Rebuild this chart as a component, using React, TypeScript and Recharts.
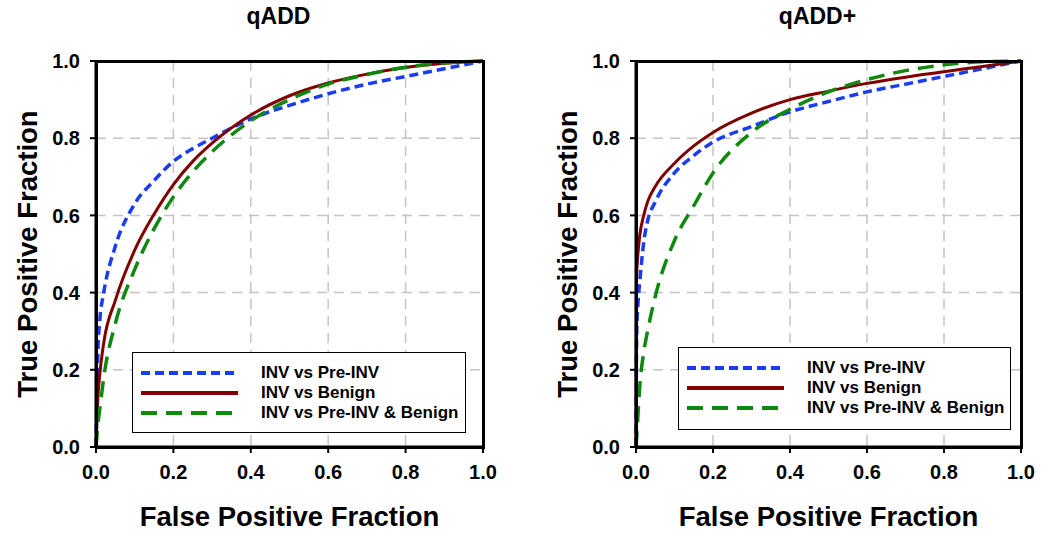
import React from 'react';
import { LineChart, Line, XAxis, YAxis, CartesianGrid, Legend } from 'recharts';

// shared axis ticks
const axisTicks = [0, 0.2, 0.4, 0.6, 0.8, 1.0];

// qADD panel (left)
const qaddFpf = [0, 0.005, 0.01, 0.02, 0.05, 0.1, 0.15, 0.2, 0.25, 0.3, 0.4, 0.5, 0.6, 0.7, 0.8, 0.9, 1.0];
const qaddPreInv = [0, 0.25, 0.33, 0.4, 0.52, 0.63, 0.69, 0.74, 0.773, 0.8, 0.85, 0.885, 0.915, 0.94, 0.96, 0.98, 1.0];
const qaddBenign = [0, 0.13, 0.19, 0.27, 0.38, 0.51, 0.603, 0.68, 0.74, 0.787, 0.86, 0.91, 0.943, 0.966, 0.983, 0.994, 1.0];
const qaddBoth = [0, 0.06, 0.1, 0.18, 0.32, 0.46, 0.565, 0.648, 0.713, 0.765, 0.845, 0.9, 0.94, 0.965, 0.984, 0.995, 1.0];

// qADD+ panel (right)
const qaddPlusFpf = [0, 0.001, 0.002, 0.005, 0.01, 0.02, 0.03, 0.05, 0.1, 0.15, 0.2, 0.3, 0.4, 0.5, 0.6, 0.7, 0.8, 0.9, 1.0];
const qaddPlusPreInv = [0, 0.2, 0.3, 0.37, 0.43, 0.53, 0.585, 0.635, 0.71, 0.755, 0.79, 0.83, 0.868, 0.895, 0.92, 0.94, 0.96, 0.98, 1.0];
const qaddPlusBenign = [0, 0.4, 0.45, 0.5, 0.55, 0.6, 0.635, 0.675, 0.735, 0.78, 0.815, 0.865, 0.9, 0.922, 0.942, 0.958, 0.972, 0.986, 1.0];
const qaddPlusBoth = [0, 0.015, 0.03, 0.08, 0.16, 0.245, 0.3, 0.39, 0.535, 0.625, 0.71, 0.815, 0.875, 0.92, 0.952, 0.975, 0.99, 0.998, 1.0];

const seriesInfo = [
  { key: 'preInv', name: 'INV vs Pre-INV', color: '#1a3cf5', dash: '9 5', width: 3.5 },
  { key: 'benign', name: 'INV vs Benign', color: '#800000', dash: undefined, width: 3 },
  { key: 'both', name: 'INV vs Pre-INV & Benign', color: '#0f880f', dash: '16 9', width: 3.5 },
];

const FONT = '"Liberation Sans", Arial, sans-serif';

const buildRows = (fpf: number[], a: number[], b: number[], c: number[]) =>
  fpf.map((x, i) => ({ x, preInv: a[i], benign: b[i], both: c[i] }));

const LegendBox = ({ w, h }: { w: number; h: number }) => (
  <div
    style={{
      width: w,
      height: h,
      boxSizing: 'border-box',
      border: '1.5px solid #000',
      background: '#fff',
      padding: '10px 0 0 8px',
    }}
  >
    {seriesInfo.map((s) => (
      <div key={s.key} style={{ display: 'flex', alignItems: 'center', height: 20 }}>
        <svg width={98} height={8}>
          <line x1={0} y1={4} x2={97} y2={4} stroke={s.color} strokeWidth={4} strokeDasharray={s.dash} />
        </svg>
        <span style={{ marginLeft: 22, fontFamily: FONT, fontWeight: 700, fontSize: 17, color: '#000' }}>
          {s.name}
        </span>
      </div>
    ))}
  </div>
);

interface PanelProps {
  title: string;
  left: number;
  width: number;
  rightGap: number;
  rows: any[];
  legendLeft: number;
  legendTop: number;
  legendW: number;
  legendH: number;
}

const PLOT_TOP = 61;
const PLOT_BOTTOM = 447;

const RocPanel: React.FC<PanelProps> = ({ title, left, width, rightGap, rows, legendLeft, legendTop, legendW, legendH }) => {
  const plotLeft = 96;
  const plotRight = width - rightGap;
  const center = (plotLeft + plotRight) / 2;
  const tickStyle = { fontFamily: FONT, fontWeight: 700, fontSize: 20, fill: '#000' };
  const frame = { stroke: '#000', strokeWidth: 3 };
  return (
    <div style={{ position: 'absolute', left, top: 0, width, height: 538 }}>
      <div
        style={{
          position: 'absolute',
          left: center - 11 - 100,
          width: 200,
          top: 3,
          textAlign: 'center',
          fontFamily: FONT,
          fontWeight: 700,
          fontSize: 23,
        }}
      >
        {title}
      </div>
      <div
        style={{
          position: 'absolute',
          left: center - 200,
          width: 400,
          top: 501,
          textAlign: 'center',
          fontFamily: FONT,
          fontWeight: 700,
          fontSize: 27.5,
        }}
      >
        False Positive Fraction
      </div>
      <div
        style={{
          position: 'absolute',
          left: 28 - 200,
          width: 400,
          top: 254 - 16,
          textAlign: 'center',
          fontFamily: FONT,
          fontWeight: 700,
          fontSize: 27.5,
          transform: 'rotate(-90deg)',
        }}
      >
        True Positive Fraction
      </div>
      <LineChart
        width={width}
        height={538}
        data={rows}
        margin={{ top: PLOT_TOP, right: rightGap, bottom: 51, left: 46 }}
      >
        <CartesianGrid stroke="#c4c4c4" strokeWidth={1.5} strokeDasharray="10 7" />
        <XAxis
          dataKey="x"
          type="number"
          domain={[0, 1]}
          ticks={axisTicks}
          interval={0}
          height={40}
          axisLine={frame}
          stroke="#000"
          tickSize={6}
          tickLine={{ stroke: '#000', strokeWidth: 2 }}
          tickMargin={12}
          tick={tickStyle}
          tickFormatter={(v: number) => v.toFixed(1)}
        />
        <YAxis
          type="number"
          domain={[0, 1]}
          ticks={axisTicks}
          interval={0}
          width={50}
          axisLine={frame}
          stroke="#000"
          tickSize={6}
          tickLine={{ stroke: '#000', strokeWidth: 2 }}
          tickMargin={10}
          tick={tickStyle}
          tickFormatter={(v: number) => v.toFixed(1)}
        />
        {seriesInfo.map((s) => (
          <Line
            key={s.key}
            dataKey={s.key}
            name={s.name}
            type="monotone"
            stroke={s.color}
            strokeWidth={s.width}
            strokeDasharray={s.dash}
            dot={false}
            activeDot={false}
            isAnimationActive={false}
          />
        ))}
        <Legend
          layout="vertical"
          align="center"
          verticalAlign="middle"
          wrapperStyle={{ left: legendLeft, top: legendTop, width: legendW, height: legendH }}
          content={() => <LegendBox w={legendW} h={legendH} />}
        />
      </LineChart>
      {/* plot frame */}
      <div
        style={{
          position: 'absolute',
          boxSizing: 'border-box',
          left: plotLeft - 1.5,
          top: PLOT_TOP - 1.5,
          width: plotRight - plotLeft + 3,
          height: PLOT_BOTTOM - PLOT_TOP + 3,
          border: '3px solid #000',
          pointerEvents: 'none',
        }}
      />
    </div>
  );
};

const App: React.FC = () => {
  const leftRows = buildRows(qaddFpf, qaddPreInv, qaddBenign, qaddBoth);
  const rightRows = buildRows(qaddPlusFpf, qaddPlusPreInv, qaddPlusBenign, qaddPlusBoth);
  return (
    <div style={{ position: 'absolute', left: 0, top: 0, width: 1050, height: 538, background: '#fff' }}>
      <RocPanel
        title="qADD"
        left={0}
        width={520}
        rightGap={37}
        rows={leftRows}
        legendLeft={132}
        legendTop={352}
        legendW={334}
        legendH={81}
      />
      <RocPanel
        title="qADD+"
        left={540}
        width={510}
        rightGap={29}
        rows={rightRows}
        legendLeft={138}
        legendTop={347}
        legendW={333}
        legendH={83}
      />
    </div>
  );
};

export default App;
